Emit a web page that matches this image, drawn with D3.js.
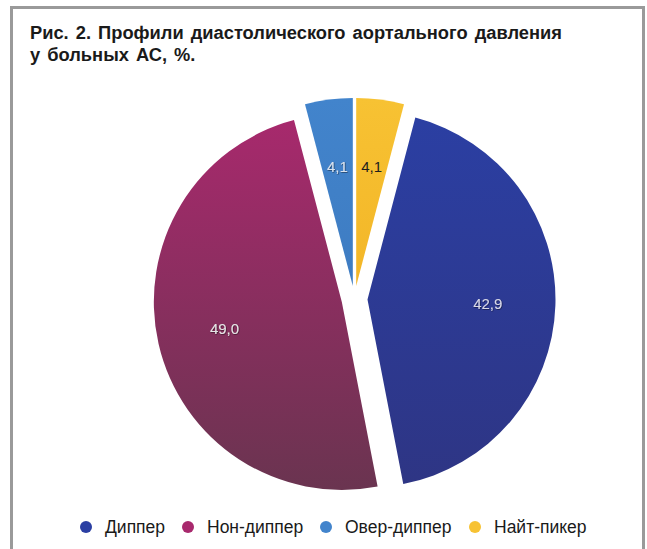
<!DOCTYPE html>
<html>
<head>
<meta charset="utf-8">
<script src="https://cdn.jsdelivr.net/npm/d3@7"></script>
<style>
  html, body { margin: 0; padding: 0; background: #fff; }
  svg { display: block; }
</style>
</head>
<body>
<svg id="chart" width="647" height="549"></svg>
<script>
// Profiles of diastolic aortic pressure, % of patients
const categories = ["Найт-пикер", "Диппер", "Нон-диппер", "Овер-диппер"];
const values = [4.1, 42.9, 49.0, 4.1];
const valueLabels = ["4,1", "42,9", "49,0", "4,1"];
const legendOrder = ["Диппер", "Нон-диппер", "Овер-диппер", "Найт-пикер"];
const titleLines = ["Рис. 2. Профили диастолического аортального давления", "у больных АС, %."];

const colors = {
  "Диппер":      ["#2b3fa3", "#2e3584"],
  "Нон-диппер":  ["#a8296d", "#6a3450"],
  "Овер-диппер": ["#4284cc", "#3a74b8"],
  "Найт-пикер":  ["#f7c233", "#efaa1c"]
};
const labelColors = {
  "Диппер": "#d8d8e8",
  "Нон-диппер": "#e6e6e6",
  "Овер-диппер": "#d9e2ee",
  "Найт-пикер": "#1e1e1e"
};

const svg = d3.select("#chart");

// frame
svg.append("rect")
  .attr("x", 11.5).attr("y", 7.5)
  .attr("width", 632).attr("height", 560)
  .attr("fill", "none").attr("stroke", "#9a9a9a").attr("stroke-width", 3);

// title
svg.append("g").selectAll("text").data(titleLines).join("text")
  .attr("x", 30)
  .attr("y", (d, i) => 39 + i * 22)
  .attr("font-family", "'Liberation Sans', Arial, sans-serif")
  .attr("font-weight", "bold")
  .attr("font-size", 18.3)
  .attr("word-spacing", 2)
  .attr("fill", "#1a1a1a")
  .text(d => d);

// pie
const cx = 354.5, cy = 299, R = 188, explode = 13;
const pie = d3.pie().sort(null).value(d => d.value);
const arcs = pie(categories.map((c, i) => ({ name: c, value: values[i], label: valueLabels[i] })));
const arc = d3.arc().innerRadius(0).outerRadius(R);
const labelArc = d3.arc().innerRadius(R * 0.64).outerRadius(R * 0.64);

const defs = svg.append("defs");
arcs.forEach((a, i) => {
  const g = defs.append("linearGradient")
    .attr("id", "grad" + i)
    .attr("gradientUnits", "userSpaceOnUse")
    .attr("x1", 0).attr("y1", -R).attr("x2", 0).attr("y2", R);
  g.append("stop").attr("offset", "0%").attr("stop-color", colors[a.data.name][0]);
  g.append("stop").attr("offset", "100%").attr("stop-color", colors[a.data.name][1]);
});

const shadow = defs.append("filter").attr("id", "txtShadow")
  .attr("x", "-20%").attr("y", "-20%").attr("width", "140%").attr("height", "140%");
shadow.append("feDropShadow").attr("dx", 0.6).attr("dy", 0.6).attr("stdDeviation", 0.6)
  .attr("flood-color", "#000").attr("flood-opacity", 0.6);

const pieG = svg.append("g").attr("transform", `translate(${cx},${cy})`);
const slice = pieG.selectAll("g.slice").data(arcs).join("g")
  .attr("class", "slice")
  .attr("transform", d => {
    const m = (d.startAngle + d.endAngle) / 2;
    return `translate(${explode * Math.sin(m)},${-explode * Math.cos(m)})`;
  });

slice.append("path")
  .attr("d", arc)
  .attr("fill", (d, i) => `url(#grad${i})`);

slice.append("text")
  .attr("transform", d => `translate(${labelArc.centroid(d)})`)
  .attr("text-anchor", "middle")
  .attr("dy", "0.35em")
  .attr("font-family", "'Liberation Sans', Arial, sans-serif")
  .attr("font-size", 15)
  .attr("fill", d => labelColors[d.data.name])
  .attr("filter", d => d.data.name === "Найт-пикер" ? null : "url(#txtShadow)")
  .text(d => d.data.label);

// legend
const legendX = [86, 188, 326, 475];
const legend = svg.append("g").selectAll("g").data(legendOrder).join("g")
  .attr("transform", (d, i) => `translate(${legendX[i]},527)`);
legend.append("circle").attr("r", 6).attr("fill", d => colors[d][0]);
legend.append("text")
  .attr("x", 19).attr("dy", "0.35em")
  .attr("font-family", "'Liberation Sans', Arial, sans-serif")
  .attr("font-size", 17.5)
  .attr("fill", "#1a1a1a")
  .text(d => d);
</script>
</body>
</html>
